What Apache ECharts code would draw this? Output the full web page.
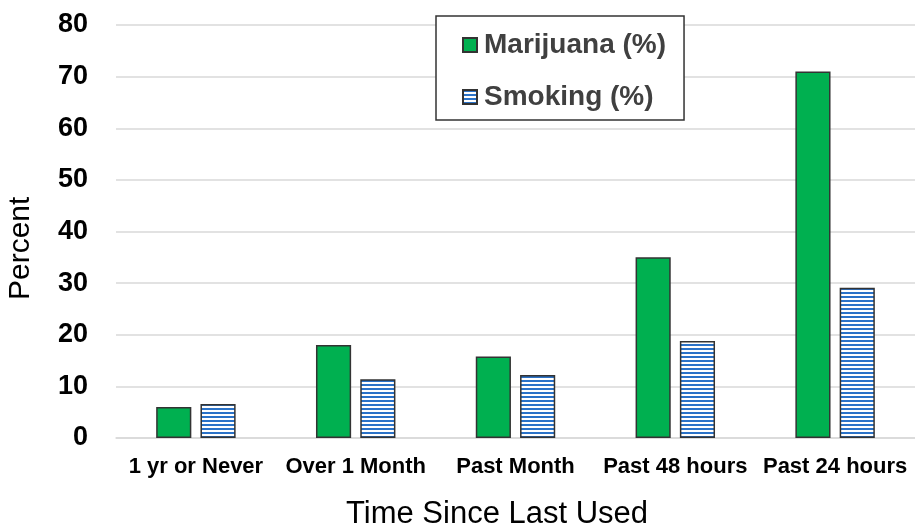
<!DOCTYPE html>
<html>
<head>
<meta charset="utf-8">
<script src="https://cdn.jsdelivr.net/npm/echarts@6/dist/echarts.min.js"></script>
<style>
  html, body { margin: 0; padding: 0; background: #fff; }
  #chart { width: 915px; height: 528px; }
</style>
</head>
<body>
<div id="chart"></div>
<script>
// categories and values
var categories = ['1 yr or Never', 'Over 1 Month', 'Past Month', 'Past 48 hours', 'Past 24 hours']
var marijuana = [6.0, 18.0, 15.8, 35.0, 71.0]
var smoking = [6.6, 11.4, 12.2, 18.8, 29.1]
var seriesNames = ['Marijuana (%)', 'Smoking (%)']

// horizontal stripes for the smoking bars
function stripes () {
  var c = document.createElement('canvas')
  c.width = 4
  c.height = 4
  var ctx = c.getContext('2d')
  ctx.fillStyle = '#ffffff'
  ctx.fillRect(0, 0, 4, 4)
  ctx.fillStyle = '#2a72c8'
  ctx.fillRect(0, 0, 4, 2)
  return c
}

var font = 'Liberation Sans, Arial, sans-serif'
var myChart = echarts.init(document.getElementById('chart'))
var option = {
  animation: false,
  grid: {
    left: 116,
    right: 0,
    top: 25,
    bottom: 90
  },
  legend: {
    orient: 'vertical',
    left: 436,
    top: 16,
    width: 252,
    padding: [15, 18, 9, 26],
    borderColor: '#333',
    borderWidth: 1.5,
    backgroundColor: '#fff',
    itemWidth: 14,
    itemHeight: 14,
    itemGap: 24,
    icon: 'rect',
    textStyle: {
      fontFamily: font,
      fontSize: 28,
      fontWeight: 'bold',
      color: '#404040',
      padding: [0, 0, 0, 2]
    },
    data: seriesNames
  },
  xAxis: {
    type: 'category',
    data: categories,
    axisLine: { lineStyle: { color: '#d9d9d9', width: 1.5 } },
    axisTick: { show: false },
    axisLabel: {
      interval: 0,
      margin: 18,
      fontFamily: font,
      fontSize: 22,
      fontWeight: 'bold',
      color: '#000'
    }
  },
  yAxis: {
    type: 'value',
    min: 0,
    max: 80,
    interval: 10,
    axisLine: { show: false },
    axisTick: { show: false },
    splitLine: { lineStyle: { color: '#d9d9d9', width: 1.5 } },
    axisLabel: {
      margin: 28,
      fontFamily: font,
      fontSize: 27,
      fontWeight: 'bold',
      color: '#000'
    }
  },
  graphic: [
    {
      type: 'text',
      left: 346,
      top: 499,
      style: { text: 'Time Since Last Used', font: '31px ' + font, fill: '#000' }
    },
    {
      type: 'text',
      x: 6,
      y: 300,
      rotation: Math.PI / 2,
      style: { text: 'Percent', font: '30px ' + font, fill: '#000' }
    }
  ],
  series: [
    {
      name: seriesNames[0],
      type: 'bar',
      data: marijuana,
      barWidth: '22%',
      barGap: '26%',
      itemStyle: { color: '#00b050', borderColor: '#333', borderWidth: 1.5 }
    },
    {
      name: seriesNames[1],
      type: 'bar',
      data: smoking,
      barWidth: '22%',
      itemStyle: { color: { image: stripes(), repeat: 'repeat' }, borderColor: '#333', borderWidth: 1.5 }
    }
  ]
}
myChart.setOption(option, true)
</script>
</body>
</html>
